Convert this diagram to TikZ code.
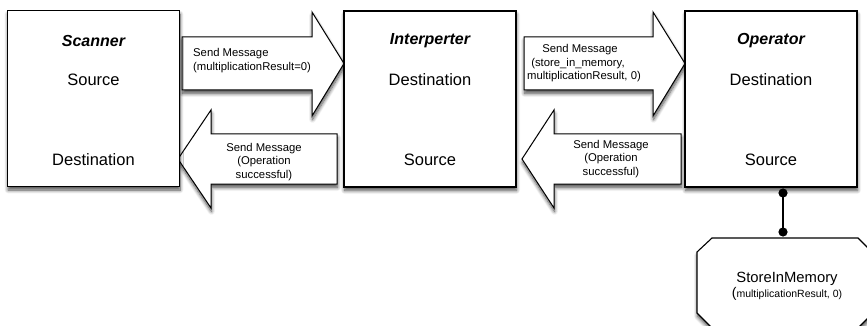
\documentclass[tikz,border=0pt]{standalone}
\usepackage{fontspec}
\setmainfont{Liberation Sans}
\usetikzlibrary{shadows.blur,arrows.meta,calc}
\begin{document}
\begin{tikzpicture}[x=1pt,y=-1pt,
  shad/.style={blur shadow={shadow xshift=0.5pt,shadow yshift=-3.5pt,shadow blur radius=3.5pt,shadow blur steps=8,shadow opacity=70}},
  procbox/.style={draw=black,line width=1.2pt,fill=white,minimum width=172pt,minimum height=176pt,inner sep=0pt,shad},
  bigarrow/.style={draw=black,line width=1pt,fill=white,line join=miter,shad},
  title/.style={font=\fontsize{16}{19}\selectfont\bfseries\itshape},
  role/.style={font=\fontsize{16.5}{19}\selectfont},
  msg/.style={font=\fontsize{11.3}{13.5}\selectfont,inner sep=0pt},
]
\useasboundingbox (0,0) rectangle (867,326);
% big message arrows
\draw[bigarrow] (182,37) -- (312,37) -- (312,12) -- (344,63.5) -- (312,116) -- (312,90) -- (182,90) -- cycle;
\draw[bigarrow] (178,159) -- (211,110) -- (211,134) -- (337,134) -- (337,184) -- (211,184) -- (211,208) -- cycle;
\draw[bigarrow] (524,37) -- (653,37) -- (653,12) -- (685,63.5) -- (653,116) -- (653,90) -- (524,90) -- cycle;
\draw[bigarrow] (522,159) -- (554,110) -- (554,134) -- (681,134) -- (681,184) -- (554,184) -- (554,208) -- cycle;
\node[msg,align=left,anchor=west] (m1) at (193,60.5) {Send Message\\(multiplicationResult=0)};
\node[msg,align=center] (m2) at (264,162) {Send Message\\(Operation\\successful)};
\node[msg,align=center] (m3) at (580,63.5) {Send Message\\\hspace*{-4pt}(store\_in\_memory,\\\hspace*{8pt}multiplicationResult, 0)};
\node[msg,align=center] (m4) at (611,159) {Send Message\\(Operation\\successful)};
% process boxes
\node[procbox] (scan) at (93.5,98.5) {};
\node[procbox] (interp) at (430,99) {};
\node[procbox] (oper) at (771,99) {};
\node[title] (t1) at (93.5,41) {Scanner};
\node[role] (s1) at (93.5,80) {Source};
\node[role] (d1) at (93.5,160) {Destination};
\node[title] (t2) at (430,41) {Interperter};
\node[role] (d2) at (430,80) {Destination};
\node[role] (s2) at (430,160) {Source};
\node[title] (t3) at (771,41) {Operator};
\node[role] (d3) at (771,80) {Destination};
\node[role] (s3) at (771,160) {Source};
% StoreInMemory octagon
\draw[line width=1.1pt,fill=white,shad] (712,238) -- (858,238) -- (873,253) -- (873,313) -- (858,328) -- (712,328) -- (697,313) -- (697,252) -- cycle;
\node[align=center,inner sep=0pt] (store) at (787,286) {{\fontsize{14.8}{18}\selectfont StoreInMemory}\\[1pt]{\fontsize{14}{14}\selectfont(}{\fontsize{10.5}{13}\selectfont multiplicationResult, 0)}};
% connector
\coordinate (c1) at (783,193);
\coordinate (c2) at (783,232);
\draw[line width=1.3pt] (c1) -- (c2);
\fill (c1) circle (4.6pt);
\fill (c2) circle (4.6pt);
\end{tikzpicture}
\end{document}
